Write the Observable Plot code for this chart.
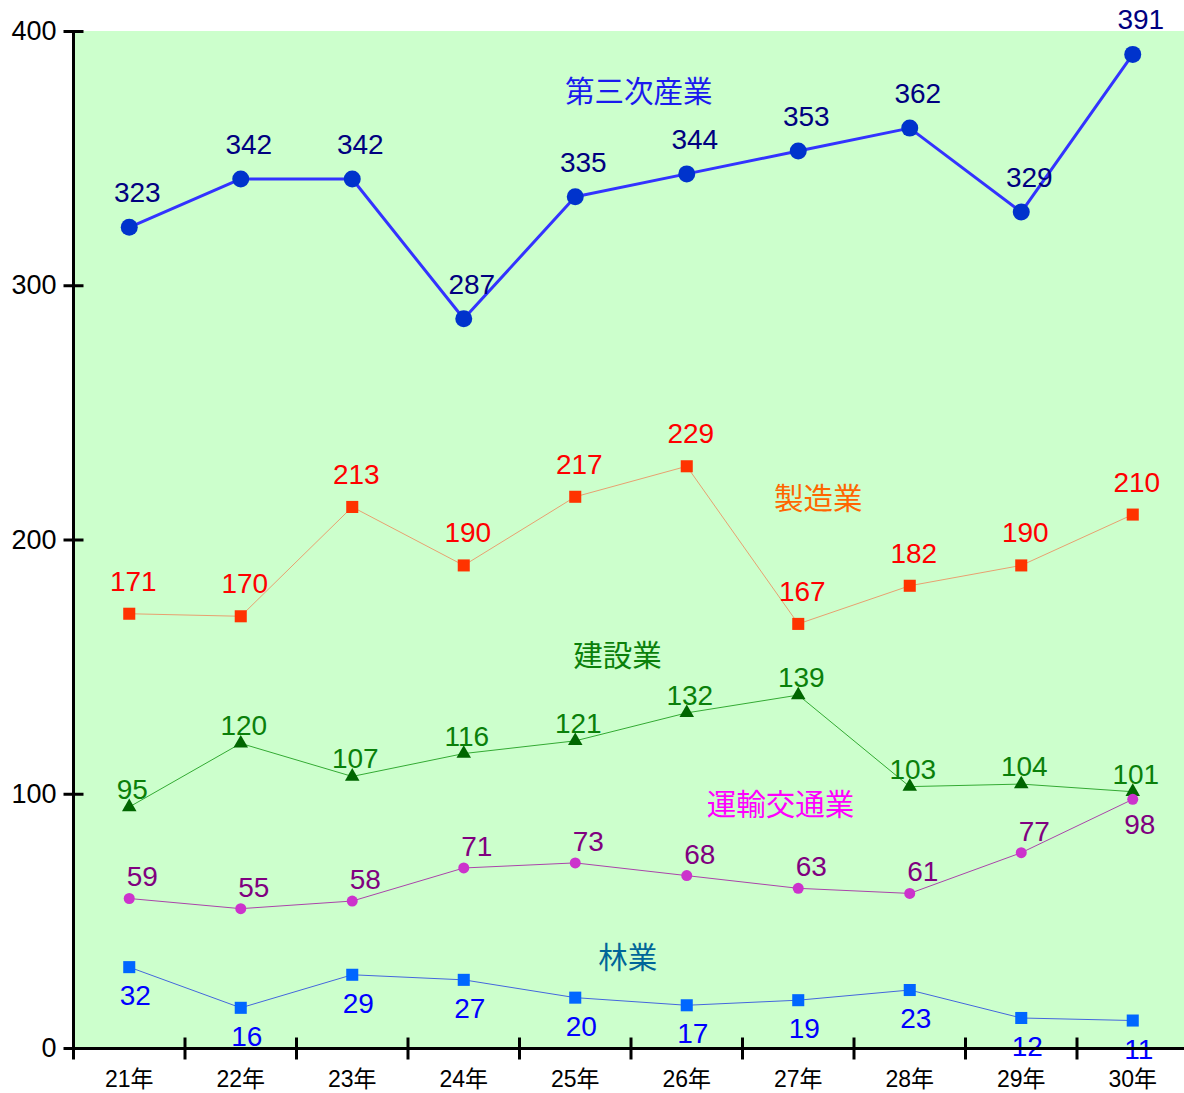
<!DOCTYPE html>
<html>
<head>
<meta charset="utf-8">
<script src="https://cdn.jsdelivr.net/npm/d3@7"></script>
<script src="https://cdn.jsdelivr.net/npm/@observablehq/plot@0.6"></script>
<style>
  body { margin: 0; background: #fff; }
  svg { display: block; }
</style>
</head>
<body>
<div id="chart"></div>
<script>
// ---- data ----
const years = ["21年", "22年", "23年", "24年", "25年", "26年", "27年", "28年", "29年", "30年"];
const tertiary = [323, 342, 342, 287, 335, 344, 353, 362, 329, 391];      // 第三次産業
const manufacturing = [171, 170, 213, 190, 217, 229, 167, 182, 190, 210]; // 製造業
const construction = [95, 120, 107, 116, 121, 132, 139, 103, 104, 101];   // 建設業
const transport = [59, 55, 58, 71, 73, 68, 63, 61, 77, 98];               // 運輸交通業
const forestry = [32, 16, 29, 27, 20, 17, 19, 23, 12, 11];                // 林業
const yTicks = [0, 100, 200, 300, 400];
const seriesNames = ["第三次産業", "製造業", "建設業", "運輸交通業", "林業"];

// ---- styles ----
const styles = {
  "第三次産業": {values: tertiary, line: "#3333ff", lw: 3, symbol: "circle", mfill: "#0033cc", r: 8.5, text: "#000080", dx: 8, dy: -34, tag: "#1a1aee", tx: 4.57, ty: 376},
  "製造業":     {values: manufacturing, line: "#e8a070", lw: 1, symbol: "square", mfill: "#ff3300", r: 6.8, text: "#ff0000", dx: 4, dy: -32, tag: "#ff6600", tx: 6.18, ty: 216},
  "建設業":     {values: construction, line: "#33aa33", lw: 1, symbol: "triangle", mfill: "#006600", r: 5.4, text: "#0a800a", dx: 3, dy: -17, tag: "#0a800a", tx: 4.38, ty: 154},
  "運輸交通業": {values: transport, line: "#aa44aa", lw: 1, symbol: "circle", mfill: "#cc33cc", r: 5.5, text: "#800080", dx: 13, dy: -21, tag: "#ff00ff", tx: 5.84, ty: 95.6},
  "林業":       {values: forestry, line: "#4466dd", lw: 1, symbol: "square", mfill: "#0066ff", r: 6.8, text: "#0000ff", dx: 6, dy: 29, tag: "#006699", tx: 4.47, ty: 35.4}
};

const xDomain = [-0.5, years.length - 0.5];
const idx = years.map((_, i) => i);

// custom tick symbols (line segments)
const hTick = {draw(ctx, size) { const r = Math.sqrt(size / Math.PI); ctx.moveTo(-r, 0); ctx.lineTo(r, 0); }};
const vTick = {draw(ctx, size) { const r = Math.sqrt(size / Math.PI); ctx.moveTo(0, -r); ctx.lineTo(0, r); }};

const numFont = "'Liberation Sans', Arial, 'Noto Sans CJK JP', sans-serif";
const cjkFont = "'Noto Sans CJK JP', 'Liberation Sans', sans-serif";
const labelSize = 28;

const marks = [];
// background
marks.push(Plot.rect([0], {x1: xDomain[0], x2: xDomain[1], y1: yTicks[0], y2: yTicks[yTicks.length - 1], fill: "#ccffcc"}));

for (const name of seriesNames) {
  const s = styles[name];
  const data = s.values.map((v, i) => ({i, v, last: i === s.values.length - 1}));
  marks.push(Plot.line(data, {x: "i", y: "v", stroke: s.line, strokeWidth: s.lw}));
  marks.push(Plot.dot(data, {x: "i", y: "v", symbol: s.symbol, r: s.r, fill: s.mfill, stroke: "none"}));
  if (name === "運輸交通業") {
    marks.push(Plot.text(data.filter(d => !d.last), {x: "i", y: "v", text: d => String(d.v), dx: s.dx, dy: s.dy, fill: s.text, fontSize: labelSize, fontFamily: numFont}));
    marks.push(Plot.text(data.filter(d => d.last), {x: "i", y: "v", text: d => String(d.v), dx: 7, dy: 26, fill: s.text, fontSize: labelSize, fontFamily: numFont}));
  } else {
    marks.push(Plot.text(data, {x: "i", y: "v", text: d => String(d.v), dx: s.dx, dy: s.dy, fill: s.text, fontSize: labelSize, fontFamily: numFont}));
  }
  marks.push(Plot.text([name], {x: () => s.tx, y: () => s.ty, text: d => d, fill: s.tag, fontSize: 29.5, fontFamily: cjkFont}));
}

// axes lines
marks.push(Plot.ruleY([yTicks[0]], {x1: xDomain[0], x2: xDomain[1], stroke: "black", strokeWidth: 3}));
marks.push(Plot.ruleX([xDomain[0]], {y1: yTicks[0], y2: yTicks[yTicks.length - 1], stroke: "black", strokeWidth: 3}));
// y ticks crossing the axis
marks.push(Plot.dot(yTicks, {x: () => xDomain[0], y: d => d, symbol: hTick, r: 10, fill: "none", stroke: "black", strokeWidth: 3}));
// x ticks at category boundaries
marks.push(Plot.dot(idx, {x: d => d - 0.5, y: () => yTicks[0], symbol: vTick, r: 11, fill: "none", stroke: "black", strokeWidth: 3}));
// tick labels
marks.push(Plot.axisY({ticks: yTicks, tickSize: 0, tickPadding: 17, fontSize: 27, fontFamily: numFont, label: null, color: "black"}));
marks.push(Plot.axisX({ticks: idx, tickFormat: i => years[i], tickSize: 0, tickPadding: 22, fontSize: 23, fontFamily: numFont, label: null, color: "black"}));

const chart = Plot.plot({
  width: 1184,
  height: 1093,
  marginLeft: 73,
  marginRight: 0,
  marginTop: 31,
  marginBottom: 45,
  style: {background: "#ffffff", color: "black", fontFamily: numFont},
  x: {type: "linear", domain: xDomain, range: [73, 1188]},
  y: {domain: [yTicks[0], yTicks[yTicks.length - 1]]},
  marks
});
document.getElementById("chart").appendChild(chart);
</script>
</body>
</html>
